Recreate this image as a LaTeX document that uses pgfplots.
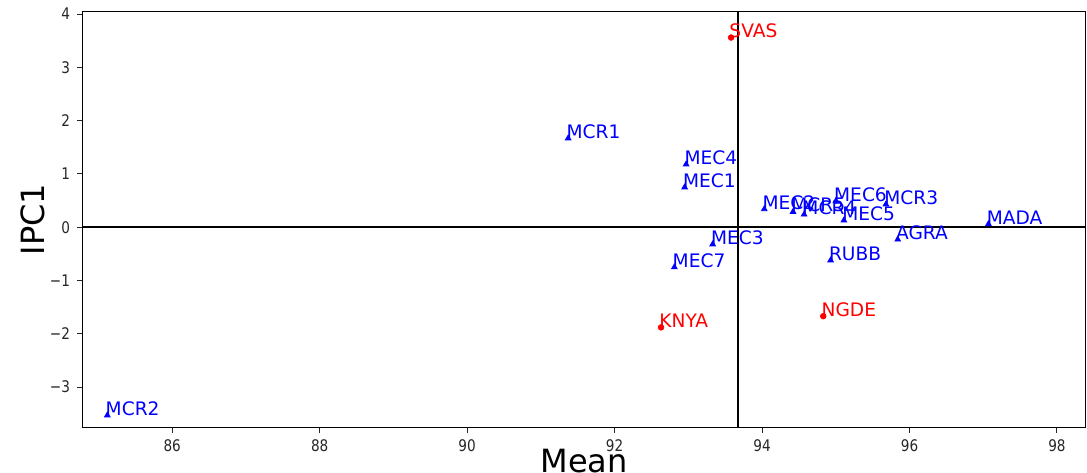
\documentclass[border=0pt]{standalone}
\usepackage{fontspec}
\setmainfont{DejaVu Sans}
\newfontfamily\condfont{DejaVu Sans}[FakeStretch=0.85]
\usepackage{pgfplots}
\pgfplotsset{compat=1.18}
\usepackage{pgfplotstable}

\definecolor{mplblue}{HTML}{0000FF}
\definecolor{mplred}{HTML}{FF0000}
\definecolor{tickgray}{HTML}{262626}

% genotypes (blue triangles)
\pgfplotstableread{
x y label
91.37 1.67 MCR1
92.97 1.18 MEC4
92.95 0.75 MEC1
94.03 0.34 MEC2
94.42 0.29 MCR5
94.57 0.24 MCR4
95.00 0.49 MEC6
95.11 0.13 MEC5
95.68 0.43 MCR3
97.07 0.06 MADA
95.84 -0.23 AGRA
94.93 -0.62 RUBB
93.33 -0.32 MEC3
92.81 -0.75 MEC7
85.12 -3.53 MCR2
}\blues

% environments (red dots)
\pgfplotstableread{
x y label
93.58 3.56 SVAS
92.63 -1.88 KNYA
94.83 -1.67 NGDE
}\reds

\begin{document}
\begin{tikzpicture}
\begin{axis}[
  scale only axis,
  width=501pt, height=207.5pt,
  xmin=84.79, xmax=98.38,
  ymin=-3.75, ymax=4.04,
  xtick={86,88,...,98},
  ytick={-3,...,4},
  yticklabels={−3,−2,−1,0,1,2,3,4},
  tick align=outside,
  tick pos=left,
  major tick length=3pt,
  tick style={tickgray, line width=0.5pt},
  axis line style={black, line width=0.5pt},
  /pgf/number format/assume math mode=true,
  ticklabel style={font=\condfont\fontsize{8}{9}\selectfont, text=tickgray},
  xlabel={Mean}, ylabel={IPC1},
  label style={font=\fontsize{16}{18}\selectfont},
  xlabel style={yshift=8.5pt},
  ylabel style={yshift=-4.5pt},
  clip=false,
  nodes near coords,
  point meta=explicit symbolic,
  every node near coord/.append style={anchor=base west, inner sep=0pt, xshift=-1pt, yshift=0pt, font=\fontsize{9.3}{10}\selectfont},
]
\draw[black, line width=1pt] (axis cs:84.79,0) -- (axis cs:98.38,0);
\draw[black, line width=1pt] (axis cs:93.68,-3.75) -- (axis cs:93.68,4.04);
\addplot[only marks, mark=triangle*, mark size=1.6pt, color=mplblue,
  every node near coord/.append style={text=mplblue}]
  table[x=x, y=y, meta=label] {\blues};
\addplot[only marks, mark=*, mark size=1.4pt, color=mplred,
  every node near coord/.append style={text=mplred}]
  table[x=x, y=y, meta=label] {\reds};
\end{axis}
\pgfresetboundingbox
\path[use as bounding box] ([shift={(-41.5pt,-22.5pt)}]current axis.south west) rectangle ([shift={(1pt,6pt)}]current axis.north east);
\end{tikzpicture}
\end{document}
